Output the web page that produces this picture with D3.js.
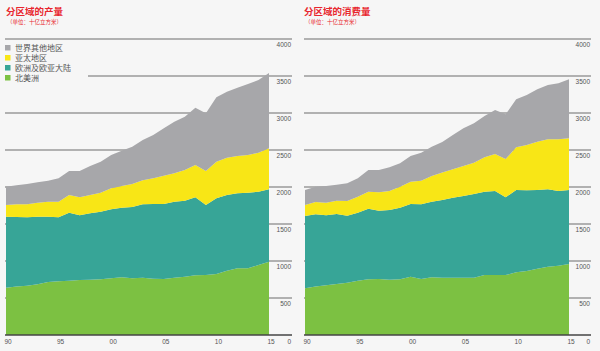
<!DOCTYPE html>
<html><head><meta charset="utf-8">
<script src="https://cdn.jsdelivr.net/npm/d3@7/dist/d3.min.js"></script>
<style>
html,body{margin:0;padding:0;background:#f6f6f6;}
svg{display:block;}
</style></head>
<body>
<svg id="c" width="600" height="351"></svg>
<script>
const years = d3.range(1990, 2016);
const seriesKeys = ["northAmerica", "europe", "asia", "rest"];
const seriesNames = {rest: "世界其他地区", asia: "亚太地区", europe: "欧洲及欧亚大陆", northAmerica: "北美洲"};
const legendOrder = ["rest", "asia", "europe", "northAmerica"];
const yTicks = [0, 500, 1000, 1500, 2000, 2500, 3000, 3500, 4000];
const xTickYears = [1990, 1995, 2000, 2005, 2010, 2015];
const xTickLabels = ["90", "95", "00", "05", "10", "15"];

// Production (billion cubic metres)
const prodNorthAmerica = [640,655,667,685,716,725,734,743,748,752,766,779,766,775,761,757,775,788,806,811,824,869,901,901,946,991];
const prodEurope = [959,939,923,914,883,865,919,874,896,915,932,942,964,991,1009,1013,1027,1027,1054,946,1023,1023,1013,1022,991,977];
const prodAsia = [158,172,176,189,203,212,239,243,248,256,284,293,311,324,347,383,383,415,437,459,495,504,505,509,527,555];
const prodRest = [247,259,274,275,284,315,324,356,392,419,450,477,504,545,586,640,698,720,775,780,870,892,923,960,982,1017];

// Consumption (billion cubic metres)
const consNorthAmerica = [631,655,671,689,707,734,752,757,748,752,788,757,779,775,775,775,775,811,811,811,847,865,896,923,937,959];
const consEurope = [977,976,946,946,906,919,955,923,941,969,982,1009,1023,1049,1081,1103,1130,1126,1135,1049,1112,1090,1063,1045,1009,1000];
const consAsia = [149,166,171,180,197,216,230,248,257,283,302,320,347,372,383,406,424,464,500,518,577,613,654,676,698,699];
const consRest = [202,207,226,217,240,248,293,302,320,316,347,378,396,412,464,509,531,558,595,604,649,675,707,734,757,797];

const colors = {rest: "#a7a7aa", asia: "#f8e616", europe: "#37a597", northAmerica: "#7cc142"};

function table(na, eu, as, re) {
  return years.map((y, i) => ({year: y, northAmerica: na[i], europe: eu[i], asia: as[i], rest: re[i]}));
}

const svg = d3.select("#c");
svg.append("rect").attr("width", 600).attr("height", 351).attr("fill", "#f6f6f6");

function panel(opts) {
  const g = svg.append("g");
  const x = d3.scaleLinear().domain([1990, 2015]).range([opts.x0, opts.x1]);
  const y = d3.scaleLinear().domain([0, 4000]).range([335, 39]);
  const numFont = "'Liberation Sans', Arial, sans-serif";

  g.selectAll("line.grid").data(yTicks.filter(v => v > 0)).enter().append("line")
    .attr("x1", opts.gx0).attr("x2", opts.gx1)
    .attr("y1", d => y(d)).attr("y2", d => y(d))
    .attr("stroke", "#9a9a9a").attr("stroke-width", 1.3);

  if (opts.legend) {
    g.append("rect").attr("x", 0).attr("y", 42).attr("width", 88).attr("height", 42).attr("fill", "#f6f6f6");
  }

  const stacked = d3.stack().keys(seriesKeys)(opts.data);
  const area = d3.area().x(d => x(d.data.year)).y0(d => y(d[0])).y1(d => y(d[1]));
  g.selectAll("path.layer").data(stacked).enter().append("path")
    .attr("d", area).attr("fill", d => colors[d.key]);

  g.append("line").attr("x1", opts.gx0).attr("x2", opts.gx1).attr("y1", y(0)).attr("y2", y(0))
    .attr("stroke", "#444").attr("stroke-width", 1.3);

  g.selectAll("text.yl").data(yTicks).enter().append("text")
    .attr("x", opts.gx1 - 1).attr("y", d => d === 0 ? y(d) + 9 : y(d) + 8)
    .attr("text-anchor", "end").attr("font-family", numFont).attr("font-size", 6.5)
    .attr("fill", "#555").text(d => d);

  g.selectAll("text.xl").data(xTickYears).enter().append("text")
    .attr("x", d => x(d) + 2).attr("y", y(0) + 9)
    .attr("text-anchor", "middle").attr("font-family", numFont).attr("font-size", 6.5)
    .attr("fill", "#555").text((d, i) => xTickLabels[i]);

  g.append("text").attr("x", opts.tx).attr("y", 15)
    .attr("font-family", "'Noto Sans CJK SC', sans-serif").attr("font-weight", "bold")
    .attr("font-size", 9.5).attr("fill", "#e8262e").text(opts.title);
  g.append("text").attr("x", opts.tx + 1).attr("y", 24)
    .attr("font-family", "'Noto Sans CJK SC', sans-serif")
    .attr("font-size", 5.5).attr("fill", "#e8262e").text("（单位：十亿立方米）");

  if (opts.legend) {
    const lg = g.append("g").selectAll("g").data(legendOrder).enter().append("g")
      .attr("transform", (d, i) => `translate(5, ${45 + i * 10})`);
    lg.append("rect").attr("width", 5.5).attr("height", 5.5).attr("fill", d => colors[d]);
    lg.append("text").attr("x", 10).attr("y", 6)
      .attr("font-family", "'Noto Sans CJK SC', sans-serif").attr("font-size", 8)
      .attr("fill", "#555").text(d => seriesNames[d]);
  }
}

panel({data: table(prodNorthAmerica, prodEurope, prodAsia, prodRest), x0: 6, x1: 269, gx0: 5, gx1: 292, tx: 6, title: "分区域的产量", legend: true});
panel({data: table(consNorthAmerica, consEurope, consAsia, consRest), x0: 305, x1: 569, gx0: 304, gx1: 591, tx: 304, title: "分区域的消费量", legend: false});
</script>
</body></html>
